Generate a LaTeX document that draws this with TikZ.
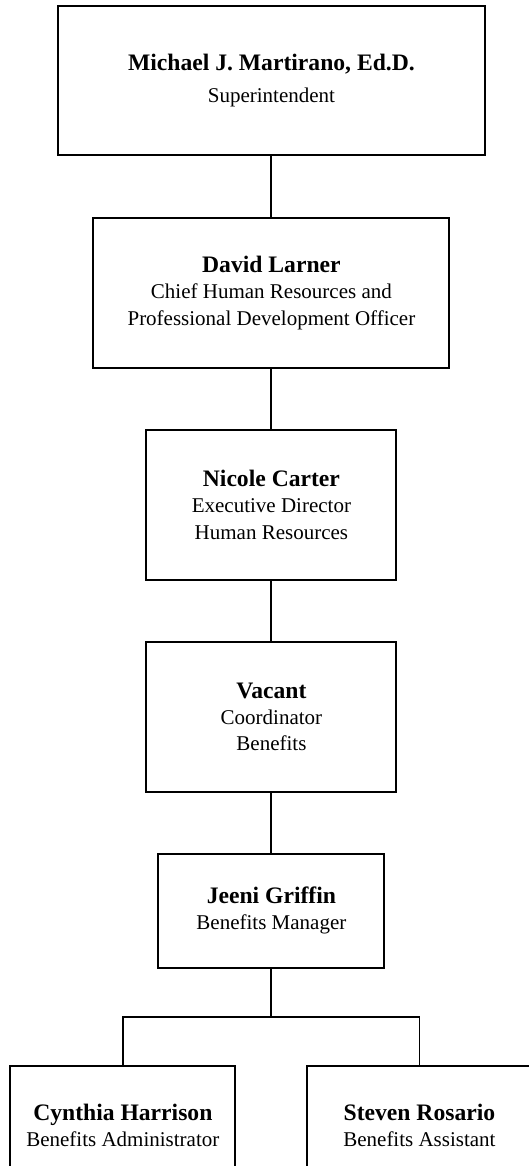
\documentclass[tikz,border=0pt]{standalone}
\usepackage{fontspec}
\setmainfont{Liberation Serif}
\usepackage{tikz}
\usetikzlibrary{positioning}
\newcommand{\who}[1]{{\fontsize{13.5}{15}\selectfont\bfseries #1}}
\tikzset{
    staff/.style={
           rectangle,
           draw=black, line width=1.1pt,
           inner sep=2pt,
           align=center,
           minimum height=85.7pt,
           font=\fontsize{12}{15}\selectfont,
           },
}
\tikzset{
    link/.style={
           draw=black, line width=1.1pt,
           },
}

\begin{document}
\begin{tikzpicture}
\useasboundingbox (-155.1pt,46pt) rectangle (147.1pt,-620.3pt);
\node[staff,minimum width=244pt,minimum height=85.1pt](0){\who{Michael J. Martirano, Ed.D.}\\[3.4pt] Superintendent};
\node[staff,minimum width=203.4pt,below=34.9pt of 0](1){\who{David Larner}\\ Chief Human Resources and\\ Professional Development Officer};
\node[staff,minimum width=142.9pt,below=34.3pt of 1](2){\who{Nicole Carter}\\ Executive Director\\ Human Resources};
\node[staff,minimum width=142.9pt,below=34.3pt of 2](3){\who{Vacant}\\ Coordinator\\ Benefits};
\node[staff,minimum width=129.1pt,minimum height=65.1pt,below=34.3pt of 3](4){\who{Jeeni Griffin}\\ Benefits Manager};
\node[staff,minimum width=128.6pt,minimum height=68.6pt,below=54.9pt of 4,xshift=-84.9pt](5){\who{Cynthia Harrison}\\ Benefits Administrator};
\node[staff,minimum width=128.6pt,minimum height=68.6pt,below=54.9pt of 4,xshift=84.6pt](6){\who{Steven Rosario}\\ Benefits Assistant};
\coordinate[below=27.4pt of 4.south](fork);
\path[link] (0) -- (1);
\path[link] (1) -- (2);
\path[link] (2) -- (3);
\path[link] (3) -- (4);
\path[link] (4) -- (fork);
\path[link] (5.north) |- (fork) -| (6.north);
\end{tikzpicture}
\end{document}
